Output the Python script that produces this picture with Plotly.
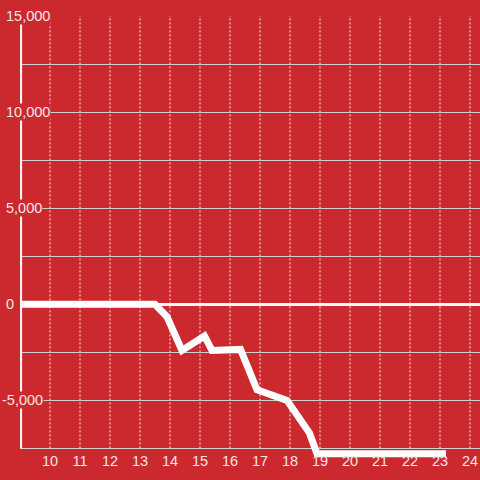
import plotly.graph_objects as go

# data
hours = [9, 13.5, 13.9, 14.4, 15.15, 15.4, 16.35, 16.9, 17.9, 18.65, 18.9, 23.2]
values = [0, 0, -650, -2400, -1650, -2400, -2350, -4450, -5000, -6700, -7780, -7780]
x_ticks = list(range(10, 25))
y_ticks = [15000, 10000, 5000, 0, -5000]

BG = "#cc292e"
TXT = "#f2e6e6"
FONT = "Liberation Sans, Arial, sans-serif"

fig = go.Figure()
fig.add_trace(go.Scatter(x=hours, y=values, mode="lines",
                         line=dict(color="white", width=7),
                         hoverinfo="skip", showlegend=False))

shapes = []
for t in x_ticks:
    shapes.append(dict(type="line", xref="x", yref="y", x0=t, x1=t, y0=-7500, y1=15000,
                       line=dict(color="rgba(255,255,255,0.9)", width=1, dash="2px,2px"),
                       layer="below"))
# y axis line
shapes.append(dict(type="line", xref="x", yref="y", x0=9.02, x1=9.02, y0=-7500, y1=15000,
                   line=dict(color="#f2f2f2", width=3), layer="above"))

annotations = []
for v in y_ticks:
    annotations.append(dict(xref="paper", yref="y", x=-15/460, y=v, xanchor="left",
                            yanchor="middle", text=f"{v:,}", showarrow=False,
                            xshift=-4 if v < 0 else 0,
                            font=dict(family=FONT, size=14.5, color=TXT),
                            bgcolor=BG, borderpad=0))

fig.update_layout(
    width=480, height=480,
    paper_bgcolor=BG, plot_bgcolor=BG,
    margin=dict(l=20, r=0, t=16, b=22.4, autoexpand=False),
    shapes=shapes, annotations=annotations,
    font=dict(family=FONT, size=14, color=TXT),
    xaxis=dict(range=[9, 24.3333], tickvals=x_ticks, showgrid=False, zeroline=False,
               showline=False, ticks="", ticklabelstandoff=-8,
               tickfont=dict(family=FONT, size=14.5, color=TXT), automargin=False),
    yaxis=dict(range=[-8000, 15000], dtick=2500, tick0=0, showgrid=True,
               gridcolor="#d0d0d0", gridwidth=1, zeroline=True, zerolinecolor="#f7f7f7",
               zerolinewidth=3, showline=False, showticklabels=False, ticks="",
               automargin=False),
)

fig.write_html("out.html", config={"displayModeBar": False},
               post_script="document.body.style.margin='0';document.body.style.background='%s';" % BG)
